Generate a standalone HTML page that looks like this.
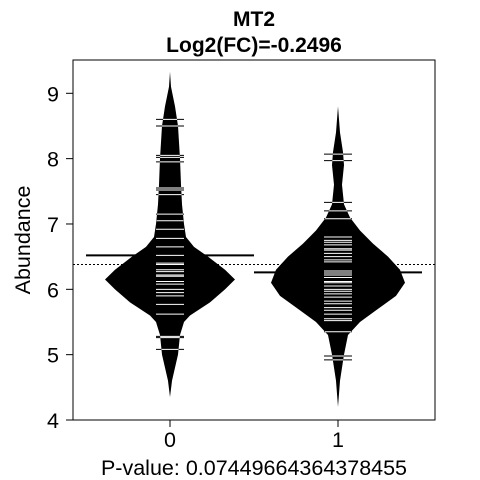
<!DOCTYPE html>
<html><head><meta charset="utf-8"><style>
html,body{margin:0;padding:0;background:#fff;}
svg{display:block;font-family:"Liberation Sans",Arial,sans-serif;}
</style></head><body>
<svg id="chart" width="480" height="480" viewBox="0 0 480 480" xmlns="http://www.w3.org/2000/svg">
<text x="254" y="26" text-anchor="middle" font-weight="bold" font-size="21">MT2</text>
<text x="254" y="52" text-anchor="middle" font-weight="bold" font-size="21">Log2(FC)=-0.2496</text>
<text transform="translate(30,240) rotate(-90)" text-anchor="middle" font-size="21.5">Abundance</text>
<text x="254" y="475" text-anchor="middle" font-size="21.5">P-value: 0.07449664364378455</text>
<g id="plot"></g>
</svg>
<script>
const categories = ["0","1"];
const yTicks = [4,5,6,7,8,9];
const profileY0 = [4.35,4.6,5.0,5.3,5.5,5.6,5.8,6.0,6.15,6.3,6.5,6.65,6.8,7.0,7.3,7.6,8.0,8.5,8.8,9.1,9.33];
const profileW0 = [0,2,8,10,14,20,40,55,65,55,38,24,16,14,12,11,10,8,5,1,0];
const profileY1 = [4.2,4.6,5.0,5.3,5.5,5.7,5.9,6.1,6.3,6.5,6.7,6.9,7.1,7.3,7.6,7.9,8.1,8.4,8.8];
const profileW1 = [0,2,6,10,22,40,58,67,62,50,35,22,12,6,4,6,5,2,0];
const values0 = [8.6,8.5,8.05,8.02,7.95,7.55,7.52,7.45,7.15,7.05,6.92,6.78,6.65,6.52,6.4,6.38,6.3,6.27,6.22,6.2,6.12,6.08,6.0,5.95,5.9,5.77,5.62,5.28,5.26,5.08];
const values1 = [8.07,7.97,7.33,7.2,7.08,6.8,6.75,6.72,6.68,6.62,6.6,6.55,6.5,6.45,6.42,6.28,6.25,6.22,6.18,6.12,6.1,6.05,6.0,5.97,5.93,5.88,5.82,5.78,5.72,5.68,5.62,5.55,5.52,5.35,4.98,4.92];
const groupMeans = [6.52,6.26];
const overallMean = 6.38;

const NS="http://www.w3.org/2000/svg";
const L=73,R=435,T=60,B=420;
const y=v=>B-(v-4)*(B-93.3)/5;
const x=i=>170+i*168;
const g=document.getElementById('plot');
function mk(tag,attrs){const e=document.createElementNS(NS,tag);for(const k in attrs)e.setAttribute(k,attrs[k]);g.appendChild(e);return e;}

const om=mk('line',{x1:L,x2:R,y1:y(overallMean),y2:y(overallMean),stroke:'#000','stroke-width':1,'stroke-dasharray':'2,2'});


groupMeans.forEach((mv,i)=>{
  const m=mk('line',{x1:x(i)-84,x2:x(i)+84,y1:y(mv),y2:y(mv),stroke:'#000','stroke-width':2});
  
  
});
const profiles=[[profileY0,profileW0],[profileY1,profileW1]];
const values=[values0,values1];
profiles.forEach((p,i)=>{
  const [py,pw]=p;
  const right=py.map((v,k)=>(x(i)+pw[k])+','+y(v));
  const left=py.map((v,k)=>(x(i)-pw[k])+','+y(v)).reverse();
  const poly=mk('polygon',{points:right.concat(left).join(' '),fill:'#000'});
  
  
});
values.forEach((vals,i)=>{
  vals.forEach(v=>{
    const ln=mk('line',{x1:x(i)-14,x2:x(i)+14,y1:y(v),y2:y(v),stroke:'#fff','stroke-width':1,style:'mix-blend-mode:difference'});
    
    
  });
});
const box=mk('rect',{x:L,y:T,width:R-L,height:B-T,fill:'none',stroke:'#000','stroke-width':1});


const ya=mk('line',{x1:L,x2:L,y1:y(4),y2:y(9),stroke:'#000'});


yTicks.forEach(t=>{
  const tk=mk('line',{x1:L-7,x2:L,y1:y(t),y2:y(t),stroke:'#000'});
  
  
  const tx=mk('text',{x:L-14,y:y(t)+8,'text-anchor':'end','font-size':21.5});
  tx.textContent=t;
  
  
});
categories.forEach((c,i)=>{
  const tk=mk('line',{x1:x(i),x2:x(i),y1:B,y2:B+7,stroke:'#000'});
  
  
  const tx=mk('text',{x:x(i),y:B+27,'text-anchor':'middle','font-size':21.5});
  tx.textContent=c;
  
  
});
</script>
</body></html>
